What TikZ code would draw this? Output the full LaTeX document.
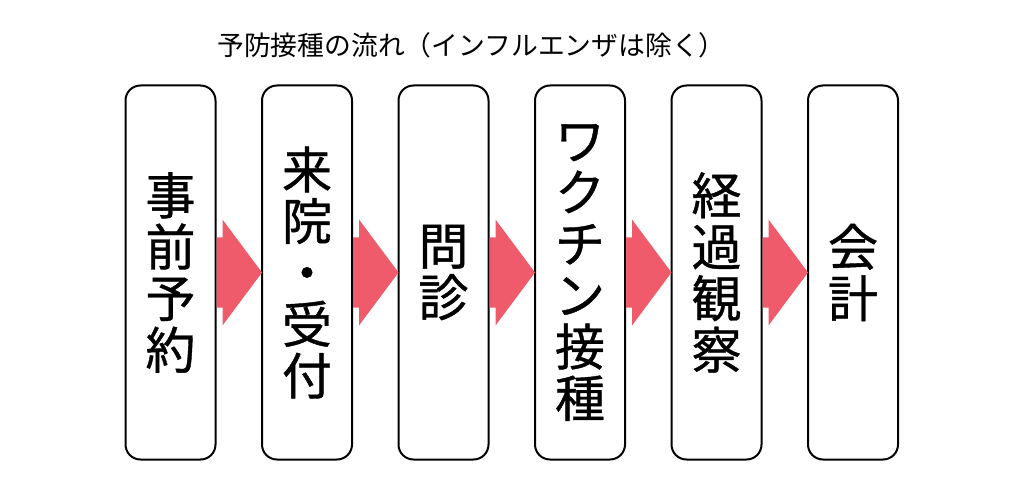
\documentclass[tikz,border=0pt]{standalone}
\usepackage{fontspec}
\setmainfont{Noto Sans CJK JP}
\newfontfamily\boxfont{Noto Sans CJK JP}[FakeBold=0.8]
\usetikzlibrary{positioning,calc}
\definecolor{arrowpink}{RGB}{239,91,106}
\tikzset{
    stepbox/.style={draw, line width=2pt, rounded corners=15pt, outer sep=0pt,
        minimum width=90pt, minimum height=374pt, inner sep=0pt, align=center,
        font=\boxfont\fontsize{50}{51.5}\selectfont},
    flow/.style={fill=arrowpink}
}

\begin{document}
\begin{tikzpicture}[x=1pt, y=1pt, node distance=46.5pt]
    \useasboundingbox (0,0) rectangle (1024,485);

    % --- Title ---
    \node[anchor=west, inner sep=0pt, font=\fontsize{26.8}{30}\selectfont] (title) at (217,440) {予防接種の流れ（インフルエンザは除く）};

    % --- Steps ---
    \node[stepbox] (reserve) at (170.5,212.5) {事\\前\\予\\約};
    \node[stepbox, right=of reserve] (visit) {来\\院\\・\\受\\付};
    \node[stepbox, right=of visit] (consult) {問\\診};
    \node[stepbox, right=of consult] (vaccine) {ワ\\ク\\チ\\ン\\接\\種};
    \node[stepbox, right=of vaccine] (observe) {経\\過\\観\\察};
    \node[stepbox, right=of observe] (pay) {会\\計};

    % --- Arrows ---
    \foreach \a/\b in {reserve/visit, visit/consult, consult/vaccine, vaccine/observe, observe/pay}
        \fill[flow] ($(\a.east)+(1,35)$) -- ($(\a.east)+(7,35)$) -- ($(\a.east)+(7,53)$)
            -- (\b.west) -- ($(\a.east)+(7,-53)$) -- ($(\a.east)+(7,-35)$)
            -- ($(\a.east)+(1,-35)$) -- cycle;

\end{tikzpicture}
\end{document}
